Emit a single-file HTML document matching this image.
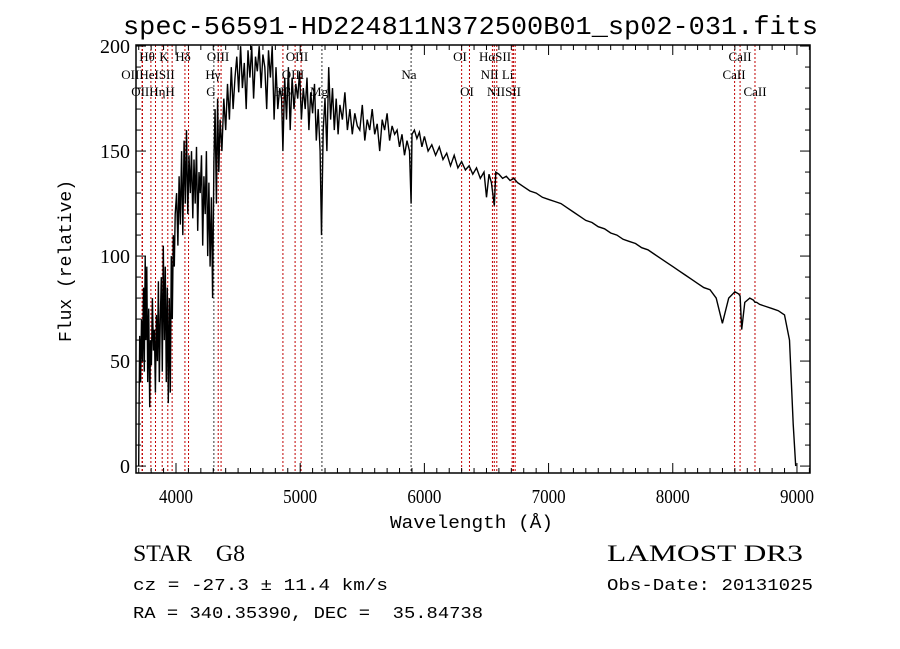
<!DOCTYPE html>
<html><head><meta charset="utf-8"><style>
body{margin:0;background:#fff;width:900px;height:649px;overflow:hidden}
svg{display:block}
.t{font-family:"Liberation Serif",serif;fill:#000;white-space:pre}
.m{font-family:"Liberation Mono",monospace;fill:#000;white-space:pre}
</style></head><body>
<svg id="c" width="900" height="649" xml:space="preserve">
<text class="m" x="123" y="34" font-size="26" textLength="695" lengthAdjust="spacingAndGlyphs">spec-56591-HD224811N372500B01_sp02-031.fits</text>
<text class="m" x="390" y="528" font-size="18" textLength="163" lengthAdjust="spacingAndGlyphs">Wavelength (Å)</text>
<text class="m" x="0" y="0" font-size="18" text-anchor="middle" transform="translate(71,261) rotate(-90)">Flux (relative)</text>
<text class="t" x="133" y="561" font-size="23" textLength="112" lengthAdjust="spacingAndGlyphs">STAR    G8</text>
<text class="m" x="133" y="590" font-size="17" textLength="255" lengthAdjust="spacingAndGlyphs">cz = -27.3 ± 11.4 km/s</text>
<text class="m" x="133" y="618" font-size="17" textLength="350" lengthAdjust="spacingAndGlyphs">RA = 340.35390, DEC =  35.84738</text>
<text class="t" x="607" y="561" font-size="23" textLength="196" lengthAdjust="spacingAndGlyphs">LAMOST DR3</text>
<text class="m" x="607" y="590" font-size="17" textLength="206" lengthAdjust="spacingAndGlyphs">Obs-Date: 20131025</text>
<g id="plot"></g>
</svg>
<script>
const lambdas=[3700,3703,3708,3715,3722,3730,3738,3745,3752,3758,3765,3772,3780,3788,3795,3802,3810,3818,3826,3834,3842,3850,3858,3866,3874,3882,3890,3898,3906,3914,3922,3930,3938,3946,3954,3962,3970,3978,3986,3994,4005,4015,4025,4035,4045,4055,4065,4075,4085,4095,4105,4115,4125,4135,4145,4155,4165,4175,4185,4195,4205,4215,4225,4235,4245,4255,4265,4275,4285,4295,4305,4315,4325,4335,4345,4355,4370,4385,4400,4415,4430,4445,4460,4475,4490,4505,4520,4535,4550,4565,4580,4595,4610,4625,4640,4655,4670,4685,4700,4715,4730,4745,4760,4775,4790,4805,4820,4835,4850,4861,4875,4890,4905,4920,4935,4950,4965,4980,4995,5010,5025,5040,5055,5070,5085,5100,5115,5130,5145,5160,5172,5185,5200,5215,5230,5245,5260,5275,5290,5305,5320,5340,5360,5380,5400,5420,5440,5460,5480,5500,5520,5540,5560,5580,5600,5620,5640,5660,5680,5700,5720,5740,5760,5780,5800,5820,5840,5860,5880,5893,5900,5920,5940,5960,5980,6000,6030,6060,6090,6120,6150,6180,6210,6240,6270,6300,6330,6360,6390,6420,6450,6480,6500,6520,6540,6563,6575,6600,6630,6660,6690,6720,6750,6800,6850,6900,6950,7000,7050,7100,7150,7200,7250,7300,7350,7400,7450,7500,7550,7600,7650,7700,7750,7800,7850,7900,7950,8000,8050,8100,8150,8200,8250,8300,8350,8400,8450,8500,8530,8542,8555,8580,8620,8650,8662,8675,8700,8750,8800,8850,8900,8940,8970,8990,8995,8998,9000];
const fluxes=[0,30,62,40,70,50,85,45,100,60,95,40,75,28,60,48,80,55,65,35,72,50,88,40,70,90,45,105,60,95,40,85,30,80,35,100,70,110,95,120,130,105,138,115,150,110,155,125,160,120,148,130,150,118,146,125,152,112,140,130,148,105,138,120,150,100,135,95,128,80,145,170,125,175,140,165,150,175,160,182,165,190,170,185,195,178,200,180,192,170,198,185,200,175,195,188,200,180,196,190,170,198,185,200,165,190,170,180,175,150,185,165,190,160,185,170,182,175,188,165,180,170,185,160,178,168,182,155,170,150,110,160,175,150,190,165,180,160,175,158,172,165,178,160,170,158,168,162,160,172,155,165,160,170,158,163,150,165,160,168,155,162,158,160,152,158,148,155,150,125,158,160,156,159,152,157,150,153,148,152,146,149,143,148,142,145,141,143,139,142,137,140,128,139,135,124,140,139,137,138,136,137,135,133,131,130,128,127,126,125,123,121,119,117,116,114,113,111,110,108,107,106,104,103,101,99,97,95,93,91,89,87,85,84,80,68,80,83,82,81,65,78,80,79,78,78,77,76,75,74,72,60,20,0];
const lineWaves=[3727,3730,3798,3835,3889,3934,3969,4072,4101,4305,4340,4363,4861,4959,5007,5175,5893,6300,6363,6548,6563,6583,6707,6717,6731,8498,8542,8662];
const lineLabels=[{t:"Hθ",x:147,y:61},{t:"K",x:164,y:61},{t:"Hδ",x:183,y:61},{t:"OIII",x:218,y:61},{t:"OIII",x:297,y:61},{t:"OI",x:460,y:61},{t:"HαSII",x:495,y:61},{t:"CaII",x:740,y:61},
{t:"OIIHeISII",x:148,y:79},{t:"Hγ",x:213,y:79},{t:"OIII",x:293,y:79},{t:"Na",x:409,y:79},{t:"NII Li",x:497,y:79},{t:"CaII",x:734,y:79},
{t:"OIIHηH",x:153,y:96},{t:"G",x:211,y:96},{t:"Hβ",x:283,y:96},{t:"Mg",x:319,y:96},{t:"OI",x:467,y:96},{t:"NIISII",x:504,y:96},{t:"CaII",x:755,y:96}];
const xTicks=[4000,5000,6000,7000,8000,9000];
const yTicks=[0,50,100,150,200];

const L=136,R=810,T=45,B=473;
const X0=3678,X1=9105,Y0=-3.3,Y1=200.5;
const sx=v=>L+(v-X0)/(X1-X0)*(R-L);
const sy=v=>B-(v-Y0)/(Y1-Y0)*(B-T);
const NS="http://www.w3.org/2000/svg";
const g=document.getElementById('plot');
function mk(tag,attrs){const e=document.createElementNS(NS,tag);for(const k in attrs)e.setAttribute(k,attrs[k]);g.appendChild(e);return e;}
const cp=mk('clipPath',{id:'clp'});
const cr=document.createElementNS(NS,'rect');cr.setAttribute('x',L);cr.setAttribute('y',T);cr.setAttribute('width',R-L);cr.setAttribute('height',B-T);cp.appendChild(cr);
lineWaves.forEach(w=>{
  const dark=(w===5893||w===5175||w===4305);
  const e=mk('line',{x1:sx(w),x2:sx(w),y1:T,y2:B,stroke:dark?'#333':'#c00000','stroke-width':1,'stroke-dasharray':'2,2'});
  
  
});
let d='';
for(let i=0;i<lambdas.length;i++){const x=sx(lambdas[i]).toFixed(1),y=sy(fluxes[i]).toFixed(1);d+=(i?'L':'M')+x+','+y;}
const p=mk('path',{d:d,fill:'none',stroke:'#000','stroke-width':1.4,'clip-path':'url(#clp)'});


lineLabels.forEach(o=>{
  const e=mk('text',{x:o.x,y:o.y,'font-size':13,'text-anchor':'middle',class:'t'});e.textContent=o.t;
  
  
});
const fr=mk('rect',{x:L,y:T,width:R-L,height:B-T,fill:'none',stroke:'#000','stroke-width':1.5});


for(let w=3700;w<=9100;w+=100){const maj=w%1000===0,len=maj?10:5,x=sx(w);
  mk('line',{x1:x,x2:x,y1:B,y2:B-len,stroke:'#000'});mk('line',{x1:x,x2:x,y1:T,y2:T+len,stroke:'#000'});}
for(let v=0;v<=200;v+=10){const maj=v%50===0,len=maj?10:5,y=sy(v);
  mk('line',{x1:L,x2:L+len,y1:y,y2:y,stroke:'#000'});mk('line',{x1:R,x2:R-len,y1:y,y2:y,stroke:'#000'});}
xTicks.forEach(v=>{const e=mk('text',{x:sx(v)-17,y:B+30,'font-size':20,textLength:34,lengthAdjust:'spacingAndGlyphs',class:'t'});e.textContent=v;
  
  });
yTicks.forEach(v=>{const e=mk('text',{x:L-6,y:sy(v)+7,'font-size':20,'text-anchor':'end',class:'t'});e.textContent=v;
  
  });
</script>
</body></html>
